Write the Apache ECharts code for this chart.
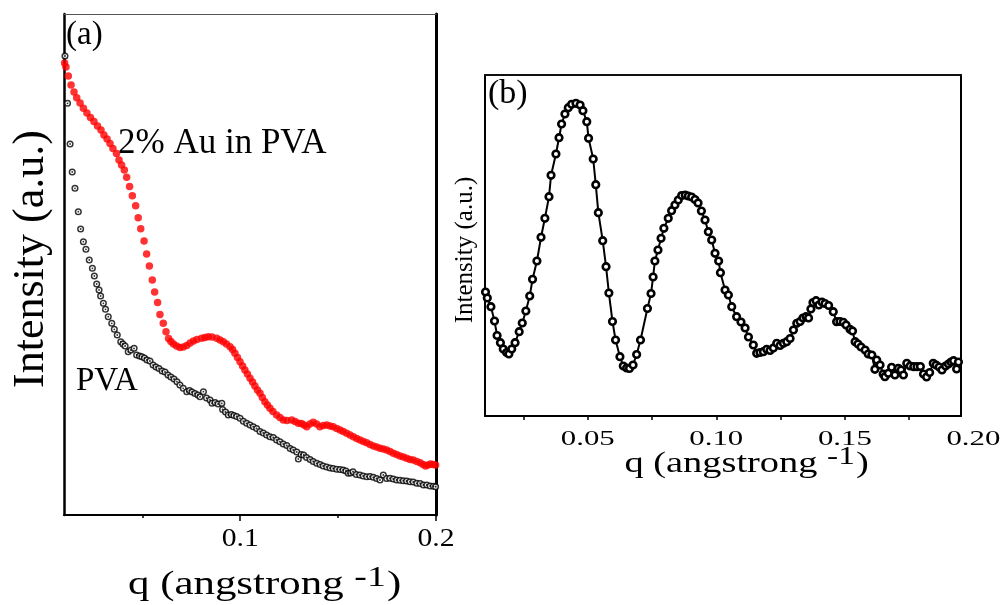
<!DOCTYPE html>
<html>
<head>
<meta charset="utf-8">
<title>SAXS intensity profiles</title>
<script src="https://cdn.jsdelivr.net/npm/echarts@6/dist/echarts.min.js"></script>
<style>
  html, body { margin: 0; padding: 0; background: #fff; }
  #main { width: 1005px; height: 605px; }
</style>
</head>
<body>
<div id="main"></div>
<script>
// ---- Panel (a): scattering curves, [q (Å^-1), intensity (a.u.)] ----
const goldPva = [
  [0.0103,452],[0.0110,448],[0.0122,439],[0.0136,430],[0.0151,423],[0.0165,417.3],[0.0182,412],[0.0199,406.7],
  [0.0217,402],[0.0235,397.5],[0.0253,393.5],[0.0271,389],[0.0289,385],[0.0304,380],[0.0320,376],[0.0335,371.5],
  [0.0350,366.5],[0.0368,361.5],[0.0381,355],[0.0394,350],[0.0408,345],[0.0420,337.7],[0.0435,328.5],[0.0449,319.3],
  [0.0466,309.3],[0.0479,297.3],[0.0492,286.3],[0.0509,274],[0.0522,261],[0.0536,249],[0.0551,235],[0.0563,223],
  [0.0578,212.5],[0.0590,200.5],[0.0607,191.7],[0.0621,183.3],[0.0634,176.5],[0.0646,173.5],[0.0659,171],[0.0675,169],
  [0.0692,167.5],[0.0709,168],[0.0727,169.5],[0.0744,172],[0.0761,174],[0.0779,175.5],[0.0803,176.7],[0.0820,177.5],
  [0.0837,178.3],[0.0856,178],[0.0880,176.7],[0.0897,175],[0.0914,173.3],[0.0930,171],[0.0948,168.3],[0.0961,165.5],
  [0.0973,161.7],[0.0986,157.5],[0.0999,153.3],[0.1012,149],[0.1024,145],[0.1037,141],[0.1050,136.7],[0.1063,133],
  [0.1075,129],[0.1088,125],[0.1101,121.7],[0.1113,117.5],[0.1126,113.3],[0.1139,110],[0.1152,106.7],[0.1167,103.5],
  [0.1186,100],[0.1203,97.5],[0.1220,95],[0.1239,94.5],[0.1263,95],[0.1280,93.5],[0.1297,91.7],[0.1313,91.5],
  [0.1326,90],[0.1340,88.3],[0.1356,91],[0.1373,92.7],[0.1390,91],[0.1407,88.3],[0.1424,89.5],[0.1442,90],
  [0.1459,89],[0.1475,88.3],[0.1493,86.5],[0.1510,85],[0.1526,83.5],[0.1544,81.7],[0.1561,80],[0.1578,78.3],
  [0.1595,76.5],[0.1612,75],[0.1629,73.5],[0.1646,72.3],[0.1663,70.5],[0.1680,69],[0.1697,68],[0.1714,66.7],
  [0.1731,66],[0.1748,65],[0.1765,63.5],[0.1782,61.7],[0.1799,60.5],[0.1816,59],[0.1833,58],[0.1850,56.7],
  [0.1867,55.5],[0.1884,55],[0.1902,53.5],[0.1919,52.3],[0.1934,50.5],[0.1947,49],[0.1960,50],[0.1972,51],
  [0.1985,50.5],[0.1998,50]
];

const purePva = [
  [0.0105,459],[0.0118,411.7],[0.0131,371],[0.0142,343],[0.0156,326.7],[0.0173,303.3],[0.0185,286],[0.0199,273.3],
  [0.0212,265.7],[0.0229,255],[0.0245,246.7],[0.0255,239],[0.0267,231],[0.0279,225],[0.0287,219],[0.0301,211.7],
  [0.0312,205.7],[0.0326,198.3],[0.0344,191.7],[0.0357,185.7],[0.0372,180],[0.0390,173.3],[0.0401,171],[0.0412,169],
  [0.0428,163.3],[0.0442,165],[0.0458,166.7],[0.0471,160],[0.0486,159],[0.0498,158.3],[0.0511,157],[0.0524,155],
  [0.0539,154],[0.0555,150],[0.0570,148],[0.0585,146.5],[0.0601,144],[0.0616,143],[0.0631,140],[0.0646,138],
  [0.0662,136],[0.0677,133.3],[0.0692,130],[0.0709,126.7],[0.0727,123.3],[0.0741,124.5],[0.0754,123],[0.0769,121.5],
  [0.0784,120],[0.0795,118.3],[0.0812,123.3],[0.0828,117],[0.0846,115],[0.0856,111.7],[0.0872,112.5],[0.0887,111],
  [0.0906,111.7],[0.0910,105.5],[0.0925,103],[0.0939,100],[0.0955,100.5],[0.0968,99.5],[0.0982,98.5],[0.0999,96.7],
  [0.1016,93.7],[0.1033,91.7],[0.1050,90],[0.1067,88.3],[0.1084,86.5],[0.1101,83.5],[0.1118,82],[0.1135,80],
  [0.1152,78.3],[0.1169,77.5],[0.1186,75],[0.1203,73.3],[0.1220,71],[0.1238,69.5],[0.1255,66.5],[0.1271,65],
  [0.1289,63],[0.1297,56],[0.1311,60.5],[0.1324,60],[0.1339,57.5],[0.1357,55.5],[0.1373,53.5],[0.1391,51.7],
  [0.1408,50.5],[0.1424,49],[0.1442,48],[0.1459,47],[0.1475,46.5],[0.1493,45.7],[0.1510,45.5],[0.1526,45],
  [0.1540,44],[0.1552,41.7],[0.1564,42],[0.1576,43.3],[0.1593,40.5],[0.1611,40],[0.1628,39],[0.1646,38.3],
  [0.1663,38.5],[0.1680,37.7],[0.1697,36.5],[0.1714,35],[0.1731,40],[0.1748,36.5],[0.1765,36.7],[0.1782,36],
  [0.1799,35],[0.1816,34.7],[0.1833,34.3],[0.1850,34],[0.1867,33.3],[0.1884,33],[0.1902,31.7],[0.1919,31.5],
  [0.1936,30],[0.1953,30],[0.1970,29],[0.1987,28.7],[0.1998,28.3]
];

// ---- Panel (b): background-subtracted profile, [q (Å^-1), intensity (a.u.)] ----
const subtracted = [
  [0.0102,124],[0.0109,118],[0.0123,109.3],[0.0137,95],[0.0147,80.5],[0.0160,73.3],[0.0171,67],[0.0184,63.5],
  [0.0193,62],[0.0204,67],[0.0217,73.3],[0.0233,84.3],[0.0245,93],[0.0259,105],[0.0274,120],[0.0285,136.7],
  [0.0302,155],[0.0318,178.7],[0.0333,197.7],[0.0349,219.3],[0.0357,240.7],[0.0376,262],[0.0388,278.3],[0.0398,292],
  [0.0411,302],[0.0424,308.3],[0.0437,311.7],[0.0454,312.7],[0.0470,311],[0.0481,305.3],[0.0496,294.3],[0.0503,277.7],
  [0.0521,257],[0.0531,231.3],[0.0541,203.3],[0.0558,175.3],[0.0571,149.3],[0.0582,123],[0.0596,94.5],[0.0608,76],
  [0.0625,59.3],[0.0638,50],[0.0651,48],[0.0662,47.5],[0.0676,51],[0.0690,61.5],[0.0705,76],[0.0732,107.5],
  [0.0746,122.5],[0.0754,139],[0.0761,155],[0.0773,166],[0.0785,177.7],[0.0796,187.7],[0.0813,197.7],[0.0826,205.3],
  [0.0839,211],[0.0852,216],[0.0865,220.5],[0.0879,221],[0.0891,220],[0.0904,219],[0.0917,216.5],[0.0929,213],
  [0.0942,205],[0.0956,196],[0.0969,184.3],[0.0982,176],[0.0995,162.7],[0.1009,155],[0.1016,143.3],[0.1034,126],
  [0.1047,121],[0.1060,109.3],[0.1079,99.3],[0.1096,94],[0.1112,88],[0.1125,79],[0.1144,71],[0.1157,62.7],
  [0.1170,63.5],[0.1183,64.3],[0.1196,66.7],[0.1209,65.5],[0.1222,68],[0.1235,72.7],[0.1248,70.5],[0.1261,72.7],
  [0.1274,74.3],[0.1287,77.5],[0.1300,86],[0.1313,92.7],[0.1326,94.5],[0.1337,98],[0.1349,99.3],[0.1359,98],
  [0.1368,107],[0.1376,113.5],[0.1388,115.3],[0.1399,111],[0.1411,114],[0.1423,112.5],[0.1437,110.5],[0.1455,104.3],
  [0.1468,94.3],[0.1481,94.5],[0.1494,93.7],[0.1505,91],[0.1520,86.7],[0.1530,85],[0.1540,74.3],[0.1551,72],
  [0.1563,69],[0.1579,66],[0.1591,62],[0.1605,61],[0.1617,46.7],[0.1624,56],[0.1637,51],[0.1649,42],
  [0.1656,39.3],[0.1669,42.7],[0.1682,48.7],[0.1695,41],[0.1708,47.7],[0.1719,46],[0.1728,41],[0.1741,52.7],
  [0.1754,50],[0.1768,49.3],[0.1781,49.3],[0.1794,49.5],[0.1806,42],[0.1818,39],[0.1830,43.5],[0.1844,52.7],
  [0.1855,51],[0.1867,49],[0.1878,46],[0.1892,50],[0.1903,52],[0.1913,54],[0.1923,55.3],[0.1935,47],
  [0.1942,54],[0.1953,48]
];

// ---- Axis ticks and labels ----
const majorTicksA = [0.1, 0.2];
const minorTicksA = [0.05, 0.15];
const tickLabelsA = ['0.1', '0.2'];
const ticksB = [0.025, 0.05, 0.075, 0.1, 0.125, 0.15, 0.175];
const labelValuesB = [0.05, 0.10, 0.15, 0.20];
const tickLabelsB = ['0.05', '0.10', '0.15', '0.20'];

const SERIF = '"Liberation Serif", "Times New Roman", serif';

const hiddenY = (grid, pos, width, min, max) => ({
  type: 'value', gridIndex: grid, position: pos, min: min, max: max,
  axisLine: { show: true, onZero: false, lineStyle: { color: '#000', width: width } },
  axisTick: { show: false }, axisLabel: { show: false }, splitLine: { show: false }
});

const option = {
  animation: false,
  backgroundColor: '#fff',
  grid: [
    { left: 64, top: 14, width: 372, height: 501 },
    { left: 485, top: 75, width: 476, height: 341 }
  ],
  xAxis: [
    { // (a) bottom axis with major ticks
      type: 'value', gridIndex: 0, position: 'bottom', min: 0.01, max: 0.2,
      axisLine: { onZero: false, lineStyle: { color: '#000', width: 2 } },
      axisTick: { show: true, customValues: majorTicksA, length: 6, lineStyle: { color: '#000', width: 1.5 } },
      axisLabel: { show: false }, splitLine: { show: false }
    },
    { // (a) minor ticks
      type: 'value', gridIndex: 0, position: 'bottom', min: 0.01, max: 0.2,
      axisLine: { show: false, onZero: false },
      axisTick: { show: true, customValues: minorTicksA, length: 3, lineStyle: { color: '#000', width: 1.5 } },
      axisLabel: { show: false }, splitLine: { show: false }
    },
    { // (a) top frame line
      type: 'value', gridIndex: 0, position: 'top', min: 0.01, max: 0.2,
      axisLine: { onZero: false, lineStyle: { color: '#555', width: 1 } },
      axisTick: { show: false }, axisLabel: { show: false }, splitLine: { show: false }
    },
    { // (b) bottom axis
      type: 'value', gridIndex: 1, position: 'bottom', min: 0.01, max: 0.1952,
      axisLine: { onZero: false, lineStyle: { color: '#000', width: 2 } },
      axisTick: { show: true, customValues: ticksB, length: 4, lineStyle: { color: '#000', width: 1.5 } },
      axisLabel: { show: false }, splitLine: { show: false }
    },
    { // (b) top frame line
      type: 'value', gridIndex: 1, position: 'top', min: 0.01, max: 0.1952,
      axisLine: { onZero: false, lineStyle: { color: '#111', width: 2 } },
      axisTick: { show: false }, axisLabel: { show: false }, splitLine: { show: false }
    }
  ],
  yAxis: [
    hiddenY(0, 'left', 2.5, 0, 501),
    hiddenY(0, 'right', 3, 0, 501),
    hiddenY(1, 'left', 2, 0, 341),
    hiddenY(1, 'right', 2, 0, 341)
  ],
  series: [
    {
      name: '2% Au in PVA', type: 'scatter', xAxisIndex: 0, yAxisIndex: 0,
      data: goldPva, symbol: 'circle', symbolSize: 7.5, silent: true,
      itemStyle: { color: '#ff0000' }
    },
    {
      name: 'PVA', type: 'scatter', xAxisIndex: 0, yAxisIndex: 0,
      data: purePva, symbol: 'circle', symbolSize: 5.6, silent: true,
      itemStyle: { color: '#fff', borderColor: '#000', borderWidth: 1.5 }
    },
    {
      name: 'PVA centre', type: 'scatter', xAxisIndex: 0, yAxisIndex: 0,
      data: purePva, symbol: 'circle', symbolSize: 1.8, silent: true,
      itemStyle: { color: '#000' }
    },
    {
      name: 'subtracted', type: 'line', xAxisIndex: 3, yAxisIndex: 2,
      data: subtracted, symbol: 'circle', symbolSize: 6.6, showAllSymbol: true, silent: true,
      lineStyle: { color: '#000', width: 2 },
      itemStyle: { color: '#fff', borderColor: '#000', borderWidth: 2.6 }
    },
    {
      name: 'subtracted centre', type: 'scatter', xAxisIndex: 3, yAxisIndex: 2,
      data: subtracted, symbol: 'circle', symbolSize: 1.8, silent: true,
      itemStyle: { color: '#000' }
    }
  ]
};

const chart = echarts.init(document.getElementById('main'));
chart.setOption(option);

// Text helper: serif text with optional horizontal stretch
function label(text, x, y, size, opts) {
  opts = opts || {};
  return {
    type: 'text', x: x, y: y, silent: true,
    rotation: opts.rotation || 0,
    scaleX: opts.scaleX || 1,
    style: {
      text: text, fill: '#000', fontSize: size, fontFamily: SERIF,
      align: opts.align || 'center', verticalAlign: 'middle',
      textAlign: opts.align || 'center', textVerticalAlign: 'middle'
    }
  };
}

// Width of a string in the serif face, for laying out the exponent
const measureCtx = document.createElement('canvas').getContext('2d');
function textWidth(str, size) {
  measureCtx.font = size + 'px ' + SERIF;
  return measureCtx.measureText(str).width;
}

// Axis title "q (angstrong ^-1)" with a raised exponent, centred on (cx, cy)
function qTitle(cx, cy, size, supSize, raise, stretch) {
  const head = 'q (angstrong ', sup = '-1', tail = ')';
  const w1 = textWidth(head, size), w2 = textWidth(sup, supSize), w3 = textWidth(tail, size);
  const x0 = -(w1 + w2 + w3) / 2;
  const part = (text, x, y, s) => ({
    type: 'text', x: x, y: y, silent: true,
    style: { text: text, fill: '#000', fontSize: s, fontFamily: SERIF,
             align: 'left', verticalAlign: 'middle', textAlign: 'left', textVerticalAlign: 'middle' }
  });
  return {
    type: 'group', x: cx, y: cy, scaleX: stretch, silent: true,
    children: [
      part(head, x0, 0, size),
      part(sup, x0 + w1, -raise, supSize),
      part(tail, x0 + w1 + w2 + 1, 0, size)
    ]
  };
}

// Tick labels placed through the axes' own scales
const graphics = [];
const baseA = chart.convertToPixel({ yAxisIndex: 0 }, 0);
majorTicksA.forEach((v, i) => {
  graphics.push(label(tickLabelsA[i], chart.convertToPixel({ xAxisIndex: 0 }, v), baseA + 24, 26, { scaleX: 1.14 }));
});
const baseB = chart.convertToPixel({ yAxisIndex: 2 }, 0);
labelValuesB.forEach((v, i) => {
  graphics.push(label(tickLabelsB[i], chart.convertToPixel({ xAxisIndex: 3 }, v), baseB + 23, 22, { scaleX: 1.4 }));
});

// Axis titles and annotations
graphics.push(
  label('(a)', 66, 35, 33, { align: 'left' }),
  label('2% Au in PVA', 118, 144, 35, { align: 'left' }),
  label('PVA', 76, 381, 33, { align: 'left' }),
  label('Intensity (a.u.)', 31, 259, 44, { rotation: Math.PI / 2 }),
  qTitle(264, 585, 33, 29, 7, 1.3),
  label('(b)', 488, 94, 34, { align: 'left' }),
  label('Intensity (a.u.)', 465, 250, 25, { rotation: Math.PI / 2 }),
  qTitle(746, 464, 30, 26, 7, 1.28)
);

chart.setOption({ graphic: graphics });
</script>
</body>
</html>
